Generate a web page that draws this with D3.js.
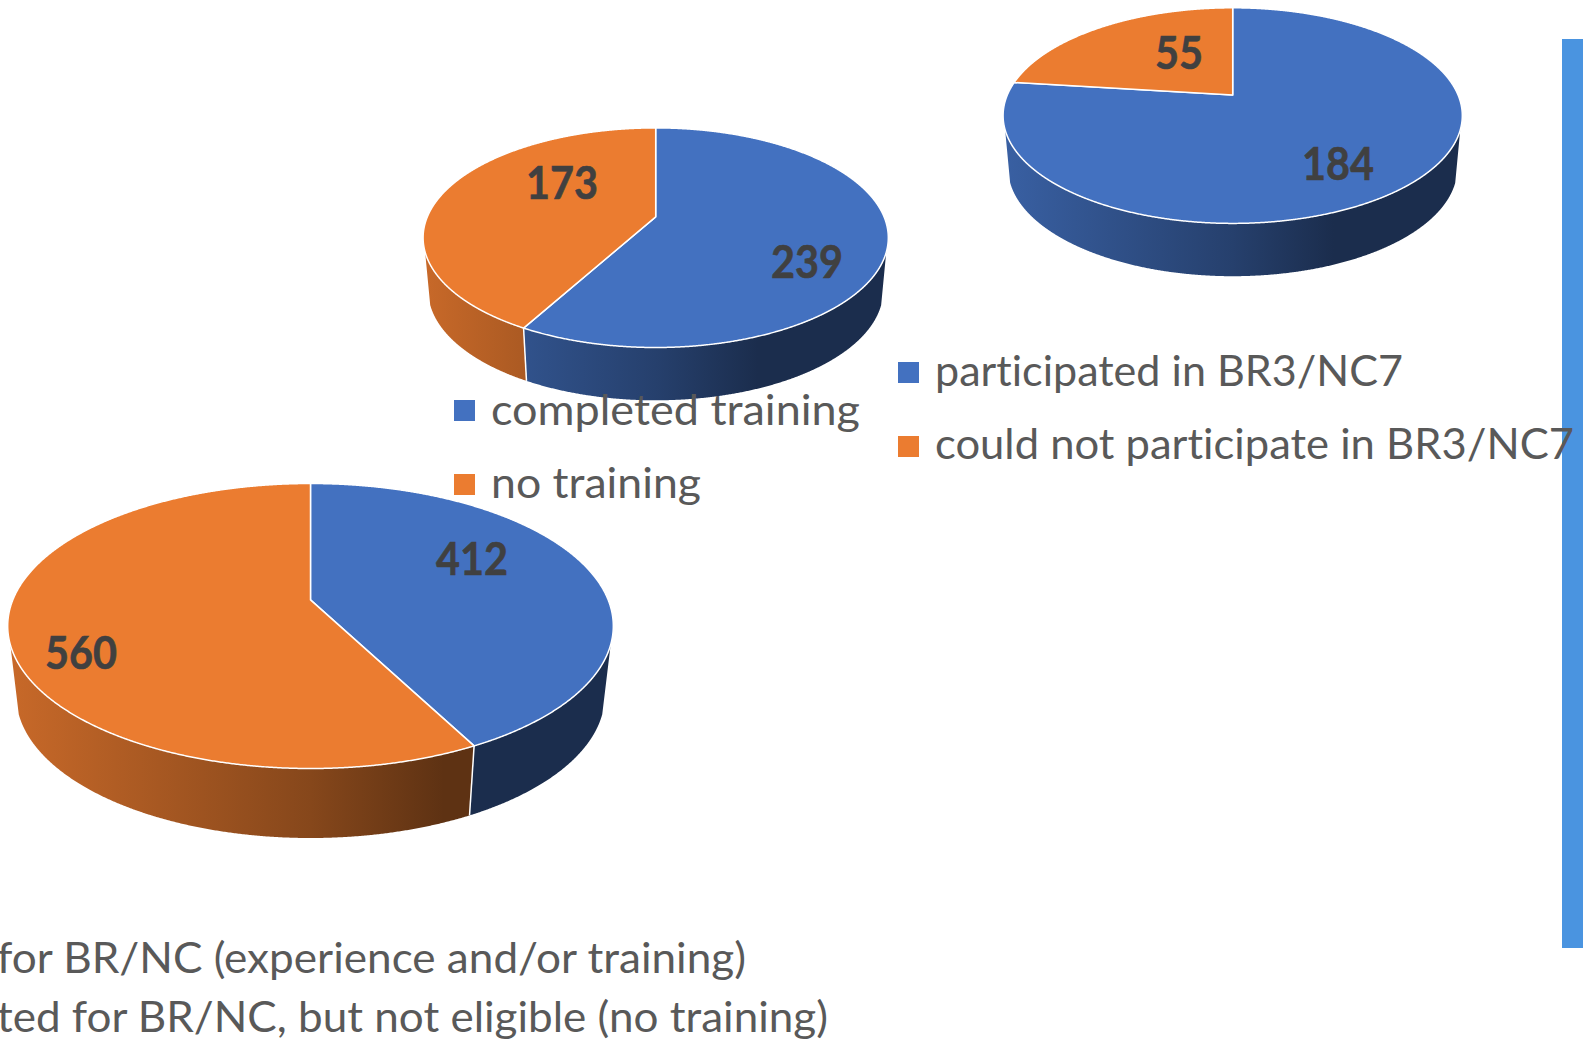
<!DOCTYPE html>
<html>
<head>
<meta charset="utf-8">
<style>
  html, body { margin: 0; padding: 0; background: #fff; overflow: hidden; }
  svg { display: block; }
  text { font-family: Lato, "Open Sans", sans-serif; font-variant-ligatures: none; }
</style>
<script src="https://cdn.jsdelivr.net/npm/d3@7"></script>
</head>
<body>
<div id="chart"></div>
<script>
// values, blue slice first, clockwise from the top
var eligibleValues = [412, 560];
var trainingValues = [239, 173];
var participationValues = [184, 55];

var trainingLegend = ["completed training", "no training"];
var participationLegend = ["participated in BR3/NC7", "could not participate in BR3/NC7"];
// the left part of this legend is cut off by the picture edge
var eligibleLegend = ["for BR/NC (experience and/or training)", "ted for BR/NC, but not eligible (no training)"];

var sliceColors = ["#4371c0", "#eb7c30"];

var width = 1583, height = 1040;

var svg = d3.select("#chart").append("svg")
  .attr("width", width)
  .attr("height", height);

var defs = svg.append("defs");

// side wall shading, multiplier on the slice colour across the pie width
var shadeStops = [0, 0.5, 0.72, 1];
var shadeValues = [0.85, 0.57, 0.4, 0.4];

var pie = d3.pie().sort(null).value(function(d) { return d; });

// t moves the circle centre up inside the ellipse, which gives the perspective
function project(p, angle, f) {
  var u = Math.sin(angle) * f;
  var v = -Math.cos(angle) * f;
  var w = 1 - p.t * v;
  return [
    p.cx + p.rx * u * Math.sqrt(1 - p.t * p.t) / w,
    p.cy + p.ry * (v - p.t) / w
  ];
}

function toBottom(p, pt) {
  return [p.cx + (pt[0] - p.cx) * p.shrink, pt[1] + p.depth];
}

// the wall leaves the top face a bit below the ellipse's widest point
function isFront(p, angle) {
  return (project(p, angle, 1)[1] - p.cy) / p.ry >= 0.13;
}

function drawPie(values, p, id) {
  var g = svg.append("g");
  var arcs = pie(values);
  var line = d3.line();

  sliceColors.forEach(function(c, i) {
    var grad = defs.append("linearGradient")
      .attr("id", id + "-side-" + i)
      .attr("gradientUnits", "userSpaceOnUse")
      .attr("x1", p.cx - p.rx)
      .attr("x2", p.cx + p.rx)
      .attr("y1", 0)
      .attr("y2", 0);
    shadeStops.forEach(function(s, k) {
      var base = d3.rgb(c);
      grad.append("stop")
        .attr("offset", s)
        .attr("stop-color", d3.rgb(base.r * shadeValues[k], base.g * shadeValues[k], base.b * shadeValues[k]).formatHex());
    });
  });

  // side walls
  arcs.forEach(function(a, i) {
    var angles = d3.range(a.startAngle, a.endAngle, 0.004).concat([a.endAngle])
      .filter(function(ang) { return isFront(p, ang); });
    if (!angles.length) return;
    var top = angles.map(function(ang) { return project(p, ang, 1); });
    var bottom = top.map(function(pt) { return toBottom(p, pt); }).reverse();
    g.append("path")
      .attr("d", line(top.concat(bottom)) + "Z")
      .attr("fill", "url(#" + id + "-side-" + i + ")");
  });

  // white seams where a slice boundary is on the front
  arcs.forEach(function(a) {
    if (!isFront(p, a.endAngle)) return;
    var pt = project(p, a.endAngle, 1);
    g.append("path")
      .attr("d", line([pt, toBottom(p, pt)]))
      .attr("stroke", "#fff")
      .attr("stroke-width", 1.5)
      .attr("fill", "none");
  });

  // top face
  arcs.forEach(function(a, i) {
    var angles = d3.range(a.startAngle, a.endAngle, 0.004).concat([a.endAngle]);
    var pts = [project(p, 0, 0)].concat(angles.map(function(ang) { return project(p, ang, 1); }));
    g.append("path")
      .attr("d", line(pts) + "Z")
      .attr("fill", sliceColors[i])
      .attr("stroke", "#fff")
      .attr("stroke-width", 1.5)
      .attr("stroke-linejoin", "round");
  });
}

function drawValueLabels(values, spots) {
  svg.append("g").selectAll("text")
    .data(values)
    .enter()
    .append("text")
    .attr("x", function(d, i) { return spots[i][0]; })
    .attr("y", function(d, i) { return spots[i][1]; })
    .attr("text-anchor", "middle")
    .attr("font-size", 45)
    .attr("font-weight", 700)
    .attr("fill", "#404040")
    .attr("stroke", "#404040")
    .attr("stroke-width", 0.6)
    .attr("textLength", function(d) { return String(d).length * 24; })
    .attr("lengthAdjust", "spacingAndGlyphs")
    .text(function(d) { return d; });
}

function drawLegend(names, x, baselines, lengths, swatchTops) {
  var g = svg.append("g");
  names.forEach(function(name, i) {
    if (swatchTops) {
      g.append("rect")
        .attr("x", x - 37)
        .attr("y", swatchTops[i])
        .attr("width", 21)
        .attr("height", 21)
        .attr("fill", sliceColors[i]);
    }
    g.append("text")
      .attr("x", x)
      .attr("y", baselines[i])
      .attr("font-size", 43)
      .attr("fill", "#595959")
      .attr("textLength", lengths[i])
      .attr("lengthAdjust", "spacingAndGlyphs")
      .text(name);
  });
}

// right hand bar
svg.append("rect")
  .attr("x", 1562)
  .attr("y", 39)
  .attr("width", 21)
  .attr("height", 909)
  .attr("fill", "#4a94e0");

drawPie(eligibleValues, {cx: 310.5, cy: 626, rx: 302.8, ry: 142.5, t: 0.183, depth: 69.5, shrink: 0.972}, "eligible");
drawPie(trainingValues, {cx: 655.7, cy: 237.7, rx: 232.6, ry: 109.8, t: 0.19, depth: 52.8, shrink: 0.978}, "training");
drawPie(participationValues, {cx: 1232.7, cy: 115.6, rx: 229.6, ry: 107.8, t: 0.19, depth: 52.8, shrink: 0.978}, "participation");

drawValueLabels(eligibleValues, [[472, 575], [81, 669]]);
drawValueLabels(trainingValues, [[807, 278], [562, 199]]);
drawValueLabels(participationValues, [[1338, 180], [1179, 69]]);

drawLegend(trainingLegend, 491, [425, 498], [369, 210], [400, 474]);
drawLegend(participationLegend, 935, [386, 459], [468, 639], [362, 436]);
drawLegend(eligibleLegend, -3, [973, 1032], [749, 831]);
</script>
</body>
</html>
